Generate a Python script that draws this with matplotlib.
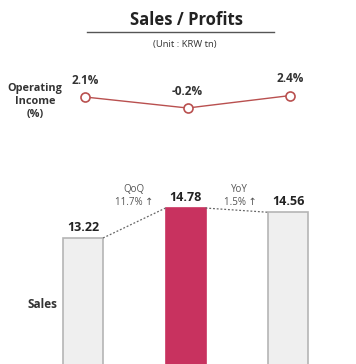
import matplotlib
matplotlib.use("Agg")
import matplotlib.pyplot as plt

plt.rcParams['font.family'] = ['Open Sans', 'DejaVu Sans']

periods = ["Q-1", "Q", "Q-4"]
sales = [13.22, 14.78, 14.56]
op_margin = [2.1, -0.2, 2.4]
margin_labels = ["2.1%", "-0.2%", "2.4%"]
sales_labels = ["13.22", "14.78", "14.56"]
growth_names = ["QoQ", "YoY"]
growth_values = ["11.7% \u2191", "1.5% \u2191"]

W, H = 356, 364
fig = plt.figure(figsize=(W / 100, H / 100), dpi=100)
fig.patch.set_facecolor("white")

# Title
fig.text(186 / W, 1 - 20 / H, "Sales / Profits", ha="center", va="center",
         fontsize=12, fontweight="bold", color="#222222")
fig.add_artist(plt.Line2D([87 / W, 274 / W], [1 - 32 / H, 1 - 32 / H],
                          color="#555555", lw=1.0))
fig.text(185 / W, 1 - 45 / H, "(Unit : KRW tn)", ha="center", va="center",
         fontsize=6.8, color="#333333")

# Line axes (operating income)
ax1 = fig.add_axes([0, 1 - 130 / H, 1, 60 / H])
x = list(range(len(periods)))
ax1.set_xlim(-0.81, 2.663)
ax1.set_ylim(-4.8, 7.75)
ax1.plot([xi + 0.02 for xi in x], op_margin, color="#b9504f", lw=1.0, marker="o",
         ms=6.5, mfc="white", mec="#b9504f", mew=1.2, zorder=3)
for xi, v, lab in zip(x, op_margin, margin_labels):
    ax1.annotate(lab, (xi + 0.02, v), xytext=(0, 12), textcoords="offset points",
                 ha="center", va="center", fontsize=8.5, fontweight="bold",
                 color="#333333")
ax1.axis("off")
fig.text(35 / W, 1 - 101 / H, "Operating\nIncome\n(%)", ha="center", va="center",
         fontsize=7.8, fontweight="bold", color="#333333", linespacing=1.25)

# Bar axes (sales)
ax2 = fig.add_axes([0, 0, 1, 184 / H])
ax2.set_xlim(-0.81, 2.663)
ax2.set_ylim(6.66, 16.24)
bw = 0.39
colors = ["#efefef", "#c8325f", "#efefef"]
edges = ["#b5b5b5", "#c8325f", "#b5b5b5"]
ax2.bar(x, sales, width=bw, color=colors, edgecolor=edges, linewidth=1.2, zorder=2)
for xi, v, lab in zip(x, sales, sales_labels):
    ax2.annotate(lab, (xi, v), xytext=(0, 7.5), textcoords="offset points",
                 ha="center", va="center", fontsize=9, fontweight="bold",
                 color="#222222")
# dotted connectors
for i in range(len(x) - 1):
    ax2.plot([x[i] + bw / 2, x[i + 1] - bw / 2], [sales[i], sales[i + 1]],
             ls=(0, (1.5, 1.5)), color="#666666", lw=0.9, zorder=3)
# growth labels
for i, (nm, gv) in enumerate(zip(growth_names, growth_values)):
    xm = (x[i] + x[i + 1]) / 2 + 0.01 * (1 if i else 0) + 0.02 * i
    ym = max(sales[i], sales[i + 1])
    ax2.annotate(nm + "\n" + gv, (xm, ym), xytext=(0, 8.5),
                 textcoords="offset points", ha="center", va="center",
                 fontsize=7, color="#555555", linespacing=1.25)
ax2.axis("off")
fig.text(43 / W, 1 - 305 / H, "Sales", ha="center", va="center",
         fontsize=8.5, fontweight="bold", color="#333333")

fig.savefig("out.png", dpi=100, facecolor="white")
